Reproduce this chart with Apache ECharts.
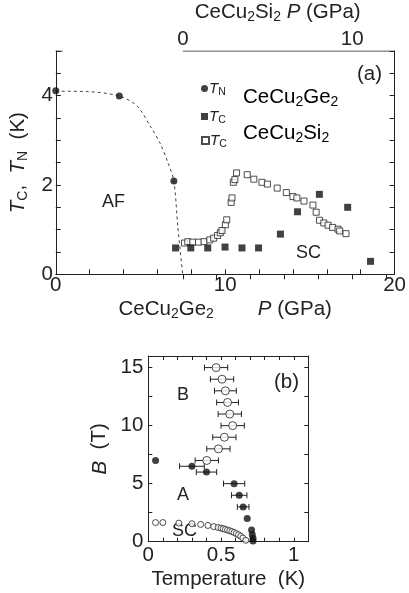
<!DOCTYPE html>
<html><head><meta charset="utf-8">
<script src="https://cdn.jsdelivr.net/npm/echarts@6/dist/echarts.min.js"></script>
<style>html,body{margin:0;padding:0;background:#fff}#c{width:409px;height:593px}</style>
</head><body><div id="c"></div>
<script>
// ---- Panel (a) data ----
// CeCu2Ge2 T_N vs P (GPa, bottom axis)
const geTN = [[0,4.11],[3.75,3.99],[6.97,2.09]];
// CeCu2Ge2 T_C vs P (GPa, bottom axis)
const geTC = [[7.07,0.59],[7.97,0.59],[8.97,0.59],[9.99,0.61],[10.99,0.59],[11.97,0.59],[13.26,0.90],[14.27,1.40],[15.56,1.79],[17.23,1.50],[18.58,0.29]];
// CeCu2Si2 T_C vs P (GPa, top axis)
const siTC = [[0.10,0.70],[0.29,0.73],[0.58,0.72],[0.92,0.72],[1.25,0.73],[1.59,0.77],[1.82,0.81],[2.05,0.87],[2.21,0.93],[2.31,0.98],[2.51,1.11],[2.59,1.22],[2.85,1.61],[2.90,1.71],[2.98,2.06],[3.07,2.12],[3.17,2.27],[3.80,2.23],[4.19,2.13],[4.67,2.06],[4.99,2.02],[5.57,1.93],[6.11,1.83],[6.50,1.74],[6.73,1.71],[7.15,1.64],[7.68,1.55],[7.87,1.39],[8.07,1.21],[8.32,1.15],[8.57,1.10],[8.84,1.05],[9.16,1.01],[9.26,0.97],[9.63,0.91]];
// dashed AF boundary guide
const afLine = [[0,4.1],[1.92,4.09],[3.75,3.99],[4.80,3.77],[5.57,3.32],[6.15,2.94],[6.63,2.49],[6.97,2.09],[7.20,1.07],[7.49,0]];
// tick / label values
const pTicks = [0,2,4,6,8,10,12,14,16,18,20];
const pLabels = [0,10,20];
const siTicks = [0,2,4,6,8,10,12];
const siLabels = [0,10];
const tTicks = [0,0.5,1,1.5,2,2.5,3,3.5,4,4.5,5];
const tLabels = [0,2,4];

// ---- Panel (b) data: [T (K), B (T), error (K)] ----
const phaseB = [[0.466,15,0.08],[0.507,14,0.08],[0.53,13,0.075],[0.545,12,0.075],[0.56,11,0.08],[0.58,10,0.08],[0.523,9,0.08],[0.482,8,0.08],[0.402,7,0.08]];
const phaseA = [[0.05,7.0,0],[0.30,6.5,0.085],[0.40,6.0,0.07],[0.59,5.0,0.073],[0.625,4.0,0.053],[0.652,3.0,0.04],[0.68,2.0,0],[0.71,1.0,0],[0.715,0.6,0],[0.72,0.3,0],[0.72,0.05,0]];
const phaseSC = [[0.05,1.65],[0.10,1.65],[0.21,1.6],[0.30,1.55],[0.36,1.49],[0.41,1.4],[0.45,1.3],[0.48,1.22],[0.50,1.17],[0.515,1.12],[0.53,1.06],[0.545,1.0],[0.56,0.94],[0.575,0.87],[0.59,0.79],[0.605,0.7],[0.62,0.6],[0.635,0.47],[0.65,0.32],[0.67,0.12]];
const tempTicks = [0,0.1,0.2,0.3,0.4,0.5,0.6,0.7,0.8,0.9,1.0,1.1];
const tempLabels = [0,0.5,1];
const bTicks = [0,2.5,5,7.5,10,12.5,15];
const bLabels = [0,5,10,15];

const FONT = 'Liberation Sans, Arial, Helvetica, sans-serif';
const INK = '#222';
const FS = 20.5;
const rich = {
  n: {fontSize: FS, fontFamily: FONT, color: INK},
  i: {fontSize: FS, fontFamily: FONT, color: INK, fontStyle: 'italic'},
  s: {fontSize: 14, fontFamily: FONT, color: INK, padding: [10,0,0,0]},
  gap: {width: 44}
};
const richSmall = {
  i: {fontSize: 15, fontFamily: FONT, color: INK, fontStyle: 'italic'},
  s: {fontSize: 10.5, fontFamily: FONT, color: INK, padding: [8,0,0,0]}
};

const lineStyle = {color: INK, width: 1};
function valAxis(o) {
  return Object.assign({
    type: 'value', splitLine: {show: false},
    axisLine: {show: true, onZero: false, lineStyle},
    axisTick: {show: true, inside: true, length: 5, lineStyle},
    axisLabel: {color: INK, fontSize: FS, fontFamily: FONT, showMinLabel: true, showMaxLabel: true},
    nameTextStyle: {color: INK, fontSize: FS, fontFamily: FONT, rich}
  }, o);
}

function errBar(params, api) {
  const x = api.value(0), y = api.value(1), e = api.value(2);
  if (!e) return null;
  const a = api.coord([x - e, y]), b = api.coord([x + e, y]);
  const h = 3;
  const st = {stroke: INK, lineWidth: 1};
  return {type: 'group', children: [
    {type: 'line', shape: {x1: a[0], y1: a[1], x2: b[0], y2: b[1]}, style: st},
    {type: 'line', shape: {x1: a[0], y1: a[1]-h, x2: a[0], y2: a[1]+h}, style: st},
    {type: 'line', shape: {x1: b[0], y1: b[1]-h, x2: b[0], y2: b[1]+h}, style: st}
  ]};
}

const chart = echarts.init(document.getElementById('c'), null, {renderer: 'canvas'});
const option = {
  animation: false,
  backgroundColor: '#fff',
  textStyle: {fontFamily: FONT, color: INK},
  grid: [
    {left: 50, top: 51, width: 347, height: 223.3},
    {left: 148.3, top: 356, width: 160, height: 185.7}
  ],
  xAxis: [
    valAxis({gridIndex: 0, position: 'bottom', min: 0, max: 20,
      axisTick: {show: true, inside: true, length: 5, lineStyle, customValues: pTicks},
      axisLabel: {color: INK, fontSize: FS, fontFamily: FONT, margin: 1, customValues: pLabels},
      name: '{n|CeCu}{s|2}{n|Ge}{s|2}{gap|}{i|P}{n| (GPa)}', nameLocation: 'middle', nameGap: 23}),
    valAxis({gridIndex: 0, position: 'top', min: -7.5, max: 12.5,
      axisLine: {show: false},
      axisTick: {show: true, inside: true, length: 5, lineStyle, customValues: siTicks},
      axisLabel: {color: INK, fontSize: FS, fontFamily: FONT, margin: 1, customValues: siLabels},
      name: '{n|CeCu}{s|2}{n|Si}{s|2}{n| }{i|P}{n| (GPa)}', nameLocation: 'middle', nameGap: 27,
      nameTextStyle: {color: INK, fontSize: FS, fontFamily: FONT, rich, padding: [0,0,0,105]}}),
    valAxis({gridIndex: 1, position: 'bottom', min: 0, max: 1.1,
      axisTick: {show: true, inside: true, length: 4, lineStyle, customValues: tempTicks},
      axisLabel: {color: INK, fontSize: FS, fontFamily: FONT, margin: 3, customValues: tempLabels},
      name: '{n|Temperature  (K)}', nameLocation: 'middle', nameGap: 27}),
    valAxis({gridIndex: 1, position: 'top', min: 0, max: 1.1,
      axisTick: {show: true, inside: true, length: 4, lineStyle, customValues: tempTicks},
      axisLabel: {show: false}})
  ],
  yAxis: [
    valAxis({gridIndex: 0, position: 'left', min: 0, max: 5,
      axisTick: {show: true, inside: true, length: 5, lineStyle, customValues: tTicks},
      axisLabel: {color: INK, fontSize: FS, fontFamily: FONT, margin: 3, customValues: tLabels},
      name: '{i|T}{s|C}{n|,  }{i|T}{s|N}{n|  (K)}', nameLocation: 'middle', nameGap: 22}),
    valAxis({gridIndex: 0, position: 'right', min: 0, max: 5,
      axisTick: {show: true, inside: true, length: 5, lineStyle, customValues: tTicks},
      axisLabel: {show: false}}),
    valAxis({gridIndex: 1, position: 'left', min: 0, max: 16,
      axisTick: {show: true, inside: true, length: 4, lineStyle, customValues: bTicks},
      axisLabel: {color: INK, fontSize: FS, fontFamily: FONT, margin: 5, customValues: bLabels},
      name: '{i|B}{n|  (T)}', nameLocation: 'middle', nameGap: 38}),
    valAxis({gridIndex: 1, position: 'right', min: 0, max: 16,
      axisTick: {show: true, inside: true, length: 4, lineStyle, customValues: bTicks},
      axisLabel: {show: false}})
  ],
  legend: [
    {left: 196, top: 76, itemWidth: 7, itemHeight: 7, itemGap: 0, data: ['TN_Ge'],
     formatter: () => '{i|T}{s|N}', textStyle: {rich: richSmall, padding: [0,0,0,-4]}},
    {left: 196, top: 104, itemWidth: 7, itemHeight: 7, itemGap: 0, data: ['TC_Ge'],
     formatter: () => '{i|T}{s|C}', textStyle: {rich: richSmall, padding: [0,0,0,-4]}},
    {left: 196, top: 128, itemWidth: 7, itemHeight: 7, itemGap: 0, data: ['TC_Si'],
     formatter: () => '{i|T}{s|C}', textStyle: {rich: richSmall, padding: [0,0,0,-4]}}
  ],
  graphic: [
    {type: 'text', left: 243, top: 87, style: {text: '{n|CeCu}{s|2}{n|Ge}{s|2}', rich}},
    {type: 'text', left: 243, top: 123, style: {text: '{n|CeCu}{s|2}{n|Si}{s|2}', rich}},
    {type: 'text', left: 357, top: 64, style: {text: '(a)', fill: INK, font: FS + 'px ' + FONT}},
    {type: 'text', left: 102, top: 193, style: {text: 'AF', fill: INK, font: '18px ' + FONT}},
    {type: 'text', left: 296, top: 244, style: {text: 'SC', fill: INK, font: '18px ' + FONT}},
    {type: 'text', left: 274, top: 372, style: {text: '(b)', fill: INK, font: FS + 'px ' + FONT}},
    {type: 'text', left: 177, top: 386, style: {text: 'B', fill: INK, font: '18px ' + FONT}},
    {type: 'text', left: 177, top: 486, style: {text: 'A', fill: INK, font: '18px ' + FONT}},
    {type: 'text', left: 172, top: 522, style: {text: 'SC', fill: INK, font: '18px ' + FONT}}
  ],
  series: [
    {type: 'line', name: 'AF boundary', xAxisIndex: 0, yAxisIndex: 0, data: afLine, smooth: 0.3,
     symbol: 'none', lineStyle: {color: '#444', width: 1, type: [3,3]}, z: 2},
    {type: 'line', name: 'topEdge', xAxisIndex: 1, yAxisIndex: 0, data: [[0,5],[12.5,5]],
     symbol: 'none', lineStyle: {color: INK, width: 1}, silent: true},
    {type: 'line', name: 'topStub', xAxisIndex: 1, yAxisIndex: 0, data: [[-7.5,5],[-7.1,5]],
     symbol: 'none', lineStyle: {color: INK, width: 1}, silent: true},
    {type: 'scatter', name: 'TN_Ge', xAxisIndex: 0, yAxisIndex: 0, data: geTN, symbol: 'circle', symbolSize: 7,
     itemStyle: {color: '#111'}, clip: false, z: 5},
    {type: 'scatter', name: 'TC_Ge', xAxisIndex: 0, yAxisIndex: 0, data: geTC, symbol: 'rect', symbolSize: 7,
     itemStyle: {color: '#111'}, clip: false, z: 5},
    {type: 'scatter', name: 'TC_Si', xAxisIndex: 1, yAxisIndex: 0, data: siTC, symbol: 'rect', symbolSize: 6,
     itemStyle: {color: '#fff', borderColor: '#222', borderWidth: 1}, clip: false, z: 4},
    {type: 'custom', name: 'errB', xAxisIndex: 2, yAxisIndex: 2, data: phaseB, renderItem: errBar, z: 3},
    {type: 'custom', name: 'errA', xAxisIndex: 2, yAxisIndex: 2, data: phaseA, renderItem: errBar, z: 3},
    {type: 'scatter', name: 'SC boundary', xAxisIndex: 2, yAxisIndex: 2, data: phaseSC, symbol: 'circle', symbolSize: 6,
     itemStyle: {color: '#fff', borderColor: '#222', borderWidth: 1}, clip: false, z: 4},
    {type: 'scatter', name: 'B boundary', xAxisIndex: 2, yAxisIndex: 2, data: phaseB, symbol: 'circle', symbolSize: 8,
     itemStyle: {color: '#fff', borderColor: '#222', borderWidth: 1}, clip: false, z: 5},
    {type: 'scatter', name: 'A boundary', xAxisIndex: 2, yAxisIndex: 2, data: phaseA, symbol: 'circle', symbolSize: 7,
     itemStyle: {color: '#111'}, clip: false, z: 5}
  ]
};
chart.setOption(option);
</script></body></html>
